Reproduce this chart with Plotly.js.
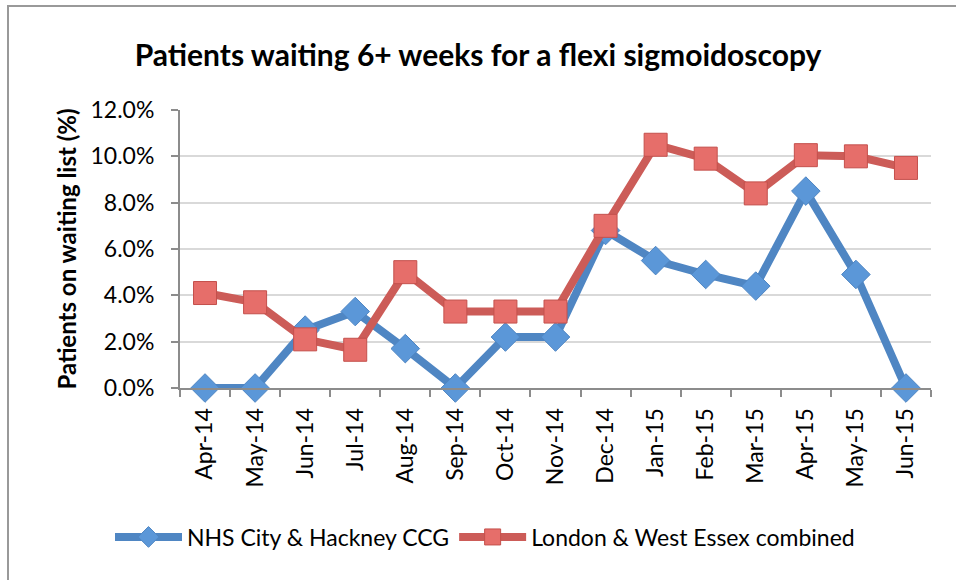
<!DOCTYPE html>
<html>
<head>
<meta charset="utf-8">
<script src="https://cdn.plot.ly/plotly-3.0.1.min.js"></script>
<style>
  html, body { margin: 0; padding: 0; background: #fff; overflow: hidden; }
  #wrap { position: relative; width: 956px; height: 580px; overflow: hidden; }
  #chart { position: absolute; left: 0; top: 0; width: 956px; height: 580px; }
  #frame { position: absolute; left: 7px; top: 5px; width: 980px; height: 600px; border: 2px solid #999999; box-sizing: border-box; pointer-events: none; }
</style>
</head>
<body>
<div id="wrap">
  <div id="chart"></div>
  <div id="frame"></div>
</div>
<script>
const months = ["Apr-14","May-14","Jun-14","Jul-14","Aug-14","Sep-14","Oct-14","Nov-14","Dec-14","Jan-15","Feb-15","Mar-15","Apr-15","May-15","Jun-15"];
const hackney = [0.0, 0.0, 2.5, 3.3, 1.7, 0.0, 2.2, 2.2, 6.8, 5.5, 4.9, 4.4, 8.5, 4.9, 0.0];
const londonEssex = [4.1, 3.7, 2.1, 1.65, 5.0, 3.3, 3.3, 3.3, 7.0, 10.5, 9.9, 8.4, 10.05, 10.0, 9.5];
const seriesNames = ["NHS City & Hackney CCG", "London & West Essex combined"];

const FONT = "Lato, 'Open Sans', sans-serif";

const traces = [
  {
    x: months, y: hackney, name: seriesNames[0], type: "scatter", mode: "lines+markers",
    line: { color: "#4f86c3", width: 8 },
    marker: { symbol: "diamond", size: 22, color: "#5b97d8", line: { color: "#4f86c3", width: 1 } },
    cliponaxis: false
  },
  {
    x: months, y: londonEssex, name: seriesNames[1], type: "scatter", mode: "lines+markers",
    line: { color: "#cc5c58", width: 8 },
    marker: { symbol: "square", size: 23, color: "#e66e6a", line: { color: "#c4504c", width: 1 } },
    cliponaxis: false
  }
];

const layout = {
  width: 956, height: 580,
  margin: { l: 180, r: 25, t: 110, b: 192, autoexpand: false },
  paper_bgcolor: "rgba(0,0,0,0)", plot_bgcolor: "rgba(0,0,0,0)",
  font: { family: FONT, color: "#000", size: 23 },
  title: {
    text: "<b>Patients waiting 6+ weeks for a flexi sigmoidoscopy</b>",
    font: { family: FONT, size: 30, color: "#000" },
    x: 0.5, xanchor: "center", xref: "container",
    y: 1 - 55/580, yanchor: "middle", yref: "container"
  },
  xaxis: {
    type: "category", range: [-0.5, 14.5],
    tickangle: -90, tickfont: { family: FONT, size: 23 },
    showline: true, linecolor: "#8c8c8c", linewidth: 2,
    ticks: "outside", ticklen: 7, tickcolor: "#8c8c8c", tickwidth: 2,
    ticklabelstandoff: 9,
    tickson: "boundaries", showgrid: false, zeroline: false, automargin: false
  },
  yaxis: {
    range: [0, 12], dtick: 2, tickformat: ".1f", ticksuffix: "%",
    tickfont: { family: FONT, size: 23 },
    showline: true, linecolor: "#8c8c8c", linewidth: 2,
    ticks: "outside", ticklen: 7, tickcolor: "#8c8c8c", tickwidth: 2,
    ticklabelstandoff: 12,
    showgrid: true, gridcolor: "#d9d9d9", gridwidth: 2, zeroline: false,
    title: { text: "<b>Patients on waiting list (%)</b>", font: { family: FONT, size: 24 }, standoff: 7 },
    automargin: false
  },
  showlegend: true,
  legend: {
    orientation: "h", x: (485-180)/751, xanchor: "center", y: (388-537)/278, yanchor: "middle",
    font: { family: FONT, size: 23 }, itemwidth: 67, tracegroupgap: 0,
    bgcolor: "rgba(0,0,0,0)"
  }
};

Plotly.newPlot("chart", traces, layout, { displayModeBar: false, staticPlot: true });
</script>
</body>
</html>
